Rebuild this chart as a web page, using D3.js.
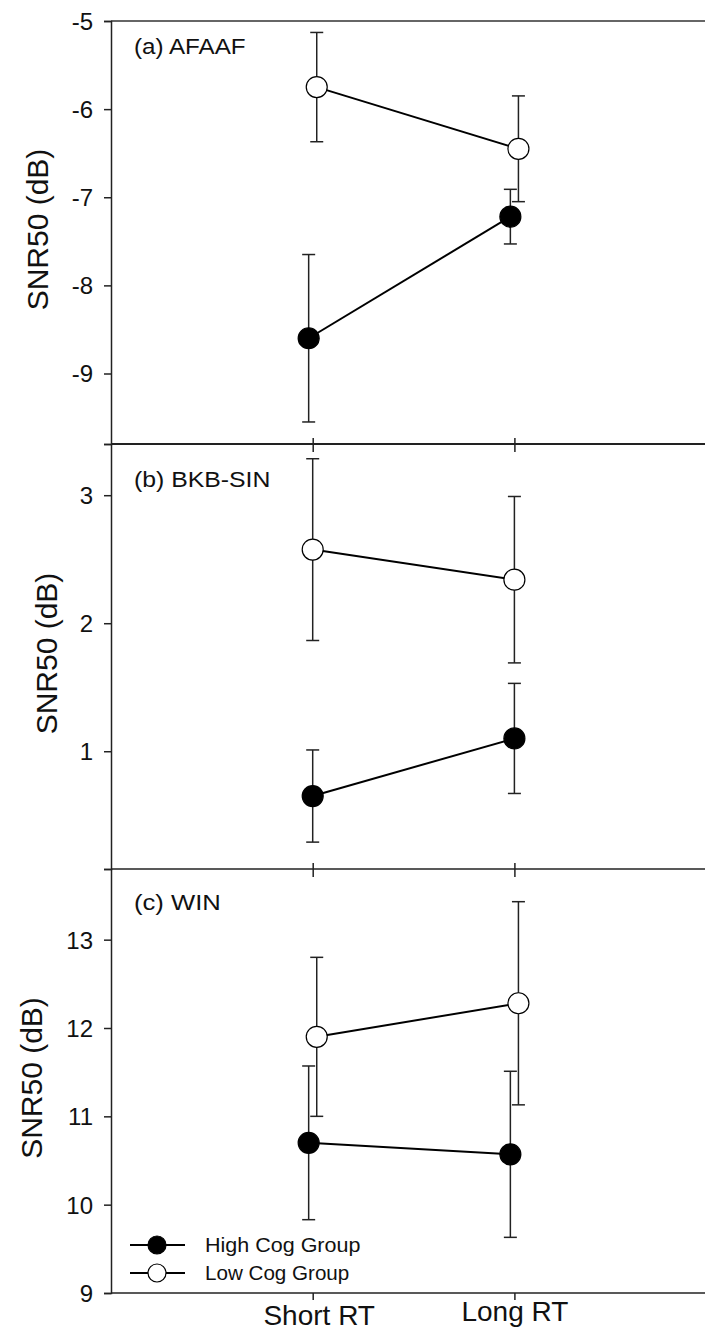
<!DOCTYPE html>
<html>
<head>
<meta charset="utf-8">
<script src="https://cdn.jsdelivr.net/npm/d3@7"></script>
<style>
  html, body { margin: 0; padding: 0; background: #fff; }
  svg { display: block; font-family: "Liberation Sans", Arial, sans-serif; }
</style>
</head>
<body>
<svg id="chart" width="705" height="1335"></svg>
<script>
// ---- Data ----
const categories = ["Short RT", "Long RT"];
const groups = ["High Cog Group", "Low Cog Group"];
const panelTitles = ["(a) AFAAF", "(b) BKB-SIN", "(c) WIN"];
const yLabel = "SNR50 (dB)";

const highMeans = [[-8.60, -7.22], [0.65, 1.10], [10.70, 10.57]];
const highErr   = [[0.95, 0.31],   [0.36, 0.43], [0.87, 0.94]];
const lowMeans  = [[-5.75, -6.45], [2.575, 2.34], [11.90, 12.28]];
const lowErr    = [[0.62, 0.60],   [0.71, 0.65], [0.90, 1.15]];

const yDomains = [[-9.8, -5], [0.08, 3.4], [9, 13.8]];
const yTicks = [[-9, -8, -7, -6, -5], [1, 2, 3], [9, 10, 11, 12, 13]];

// ---- Layout ----
const svg = d3.select("#chart");
const left = 111;
const panelTops = [21, 444, 869];
const panelBottoms = [444, 869, 1293];
const dodge = [0.02, 0, 0.02];          // horizontal offset of groups (x units)
const titleOffsets = [33, 43, 41];
const labelX = [37, 46, 31];

const x = d3.scaleLinear().domain([0, 3]).range([left, left + 3 * 201.7]);

panelTitles.forEach((title, p) => {
  const top = panelTops[p], bottom = panelBottoms[p];
  const y = d3.scaleLinear().domain(yDomains[p]).range([bottom, top]);
  const g = svg.append("g");

  if (p === 0) {
    g.append("line").attr("x1", left).attr("x2", 705).attr("y1", top).attr("y2", top)
      .attr("stroke", "#666").attr("stroke-width", 2);
  }

  // y axis
  const ya = g.append("g").attr("transform", `translate(${left},0)`)
    .call(d3.axisLeft(y).tickValues(yTicks[p]).tickSize(7).tickPadding(11).tickFormat(d => String(d)));
  ya.select(".domain").attr("stroke", "#222").attr("stroke-width", 1.5);
  ya.selectAll(".tick line").attr("stroke", "#222").attr("stroke-width", 1.5);
  ya.selectAll(".tick text").attr("font-size", 24).attr("fill", "#111")
    .attr("font-family", "Liberation Sans, Arial, sans-serif").attr("dy", "0.35em");

  // x axis at panel bottom
  const xa = g.append("g").attr("transform", `translate(0,${bottom})`)
    .call(d3.axisBottom(x).tickValues([1, 2]).tickSize(7)
      .tickFormat(p === 2 ? (d => categories[d - 1]) : ""));
  xa.select(".domain").attr("d", `M${left},0H705`).attr("stroke", "#222").attr("stroke-width", p === 0 ? 2.2 : 1.6);
  xa.selectAll(".tick line").attr("stroke", "#222").attr("stroke-width", 1.5)
    .attr("y1", p === 2 ? 0 : -6).attr("y2", p === 2 ? 7 : 8);
  if (p === 2) {
    xa.selectAll(".tick text").attr("font-size", 28).attr("fill", "#111")
      .attr("font-family", "Liberation Sans, Arial, sans-serif")
      .attr("y", (d, i) => i === 0 ? 12 : 8).attr("dx", (d, i) => i === 0 ? 6 : 0);
  }

  // y label
  g.append("text")
    .attr("transform", `translate(${labelX[p]},${(top + bottom) / 2 - 3}) rotate(-90)`)
    .attr("text-anchor", "middle").attr("dy", "0.35em")
    .attr("font-size", 30).attr("fill", "#111").text(yLabel);

  // panel title
  g.append("text").attr("x", 134).attr("y", top + titleOffsets[p])
    .attr("font-size", 22).attr("fill", "#111")
    .attr("textLength", title.length * 12.4).attr("lengthAdjust", "spacingAndGlyphs")
    .text(title);

  const series = [
    { means: highMeans[p], errs: highErr[p], fill: "#000", off: -dodge[p] },
    { means: lowMeans[p],  errs: lowErr[p],  fill: "#fff", off: dodge[p] }
  ];

  // error bars
  series.forEach(s => {
    s.means.forEach((m, i) => {
      const cx = x(i + 1 + s.off);
      const e = s.errs[i];
      g.append("line").attr("x1", cx).attr("x2", cx).attr("y1", y(m - e)).attr("y2", y(m + e))
        .attr("stroke", "#222").attr("stroke-width", 1.5);
      [m - e, m + e].forEach(v => {
        g.append("line").attr("x1", cx - 6.5).attr("x2", cx + 6.5).attr("y1", y(v)).attr("y2", y(v))
          .attr("stroke", "#222").attr("stroke-width", 1.5);
      });
    });
  });

  // connecting lines
  const line = d3.line().x((d, i) => x(i + 1 + d.off)).y(d => y(d.v));
  series.forEach(s => {
    g.append("path").datum(s.means.map(v => ({ v, off: s.off })))
      .attr("d", line).attr("fill", "none").attr("stroke", "#000").attr("stroke-width", 2);
  });

  // markers
  series.forEach(s => {
    s.means.forEach((m, i) => {
      g.append("circle").attr("cx", x(i + 1 + s.off)).attr("cy", y(m)).attr("r", 10.5)
        .attr("fill", s.fill).attr("stroke", "#000").attr("stroke-width", 1.2);
    });
  });

  // legend in last panel
  if (p === 2) {
    const legY = [1245, 1273];
    groups.forEach((name, k) => {
      g.append("line").attr("x1", 130).attr("x2", 185).attr("y1", legY[k]).attr("y2", legY[k])
        .attr("stroke", "#000").attr("stroke-width", 1.8);
      g.append("circle").attr("cx", 157).attr("cy", legY[k]).attr("r", 9)
        .attr("fill", k === 0 ? "#000" : "#fff").attr("stroke", "#000").attr("stroke-width", 1.2);
      g.append("text").attr("x", 205).attr("y", legY[k] + 7).attr("font-size", 21)
        .attr("fill", "#111").attr("textLength", name.length * 11.1)
        .attr("lengthAdjust", "spacingAndGlyphs").text(name);
    });
  }
});
</script>
</body>
</html>
